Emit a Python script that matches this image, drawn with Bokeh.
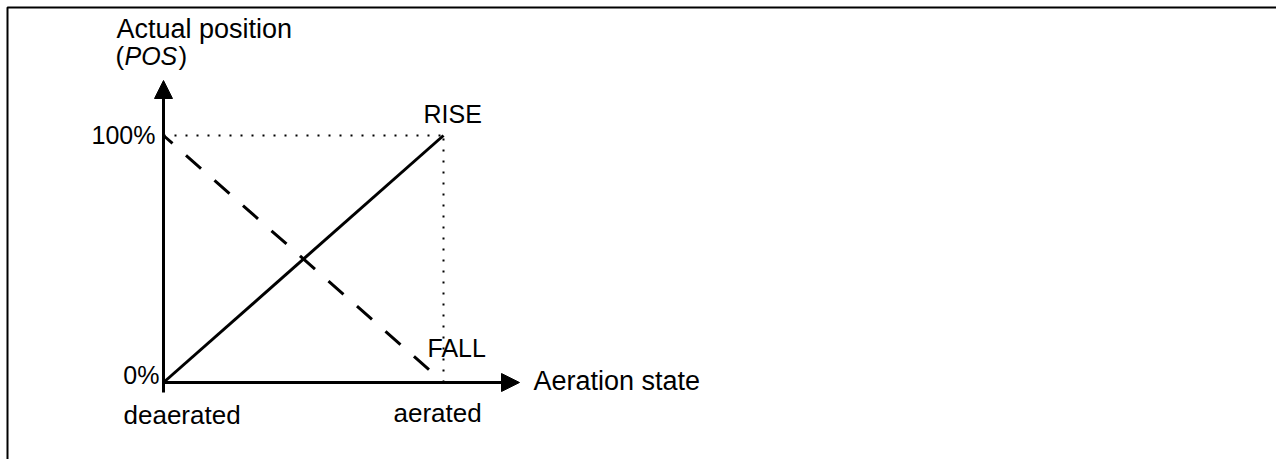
from bokeh.plotting import figure
from bokeh.models import Range1d, Arrow, NormalHead, Label
from bokeh.embed import file_html
from bokeh.resources import INLINE

# ---- data ----
aeration_labels = ["deaerated", "aerated"]
aeration_x = [0, 1]
position_tick_values = [0, 100]
position_tick_labels = ["0%", "100%"]
rise_pos = [0, 100]
fall_pos = [100, 0]
y_axis_title = "Actual position"
y_axis_symbol = "POS"
x_axis_title = "Aeration state"
curve_names = ["RISE", "FALL"]

# ---- layout (pixels) ----
W, H = 1276, 459
ORIGIN_PX_X, ORIGIN_PX_Y = 163, 382      # origin inside the canvas
PX_X = 280.0                               # px per aeration unit
PX_Y = 2.47                                # px per percent
TEXT_SHIFT = -9.5                          # baseline correction for labels

x0 = -ORIGIN_PX_X / PX_X
x1 = x0 + W / PX_X
y0 = -(H - ORIGIN_PX_Y) / PX_Y
y1 = y0 + H / PX_Y
p = figure(width=W, height=H, output_backend="svg", toolbar_location=None,
           x_range=Range1d(x0, x1), y_range=Range1d(y0, y1),
           min_border=0, outline_line_color=None)
p.axis.visible = False
p.grid.visible = False
p.background_fill_color = "white"
p.border_fill_color = "white"

def at(xd, yd, dx, dy):
    return xd + dx / PX_X, yd - dy / PX_Y

FONT = "Liberation Sans"

# frame border (top and left only)
bx = x0 + 7 / PX_X
by = y1 - 7 / PX_Y
p.line([bx, bx, x1], [y0, by, by], line_color="black", line_width=2)

xmin, xmax = aeration_x[0], aeration_x[1]
ymin, ymax = position_tick_values[0], position_tick_values[1]

# dotted guides
p.line([xmin, xmax], [ymax, ymax], line_color="black", line_width=2, line_dash="2 9")
p.line([xmax, xmax], [ymin, ymax], line_color="black", line_width=2, line_dash="2 9")
p.line([xmin, xmax], [ymin, ymin], line_color="black", line_width=1.5, line_dash="2 9",
       line_alpha=0.8)

# curves
p.line(aeration_x, rise_pos, line_color="black", line_width=3)
p.line(aeration_x, fall_pos, line_color="black", line_width=3, line_dash="20 18",
       line_dash_offset=8)

# axes as arrows
ybot = at(0, ymin, 0, 10)[1]
ytip = at(0, ymax, 0, -55)[1]
xtip = at(xmax, 0, 76, 0)[0]
p.add_layout(Arrow(end=NormalHead(size=18, fill_color="black", line_color="black", line_width=1),
                   x_start=xmin, y_start=ybot, x_end=xmin, y_end=ytip,
                   line_color="black", line_width=3))
p.add_layout(Arrow(end=NormalHead(size=18, fill_color="black", line_color="black", line_width=1),
                   x_start=xmin, y_start=ymin, x_end=xtip, y_end=ymin,
                   line_color="black", line_width=3))

def label(text, xd, yd, dx, dy, size, align="left", style="normal"):
    x, y = at(xd, yd, dx, dy + TEXT_SHIFT)
    p.add_layout(Label(x=x, y=y, text=text, text_font=FONT, text_font_size=size,
                       text_align=align, text_baseline="alphabetic",
                       text_color="black", text_font_style=style))

# y axis title
label(y_axis_title, xmin, ymax, -47, -97, "27px")
label("(", xmin, ymax, -48, -70, "26px")
label(y_axis_symbol, xmin, ymax, -39, -70, "25px", style="italic")
label(")", xmin, ymax, 15, -70, "26px")

# y tick labels
label(position_tick_labels[1], xmin, ymax, -8, 9, "25px", align="right")
label(position_tick_labels[0], xmin, ymin, -4, 2, "25px", align="right")

# x tick labels
label(aeration_labels[0], xmin, ymin, -40, 42, "26px")
label(aeration_labels[1], xmax, ymin, -50, 40, "26px")

# x axis title
label(x_axis_title, xmax, ymin, 90, 8, "27px")

# curve names
label(curve_names[0], xmax, ymax, -20, -12, "25px")
label(curve_names[1], xmax, ymin, -16, -25, "25px")

open("out.html", "w").write(file_html(p, INLINE))
